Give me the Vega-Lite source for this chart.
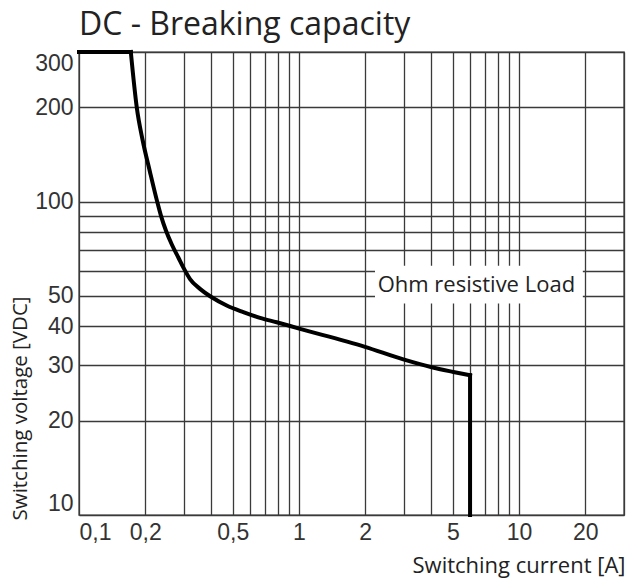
{
  "$schema": "https://vega.github.io/schema/vega-lite/v6.json",
  "autosize": {"type": "none"},
  "padding": {"left": 79, "top": 52, "right": 3, "bottom": 63},
  "width": 545,
  "height": 463,
  "background": "white",
  "view": {"stroke": "#3a3a3a", "strokeWidth": 1.4},
  "title": {
    "text": "DC - Breaking capacity",
    "anchor": "start",
    "frame": "group",
    "font": "Open Sans",
    "fontSize": 32,
    "fontWeight": "normal",
    "color": "#222222",
    "baseline": "alphabetic",
    "offset": 17,
    "dy": 40
  },
  "datasets": {
    "curve": [
      {"segment": "top", "current": 0.1, "voltage": 300},
      {"segment": "top", "current": 0.172, "voltage": 300},
      {"segment": "curve", "current": 0.172, "voltage": 300},
      {"segment": "curve", "current": 0.183, "voltage": 200},
      {"segment": "curve", "current": 0.195, "voltage": 156},
      {"segment": "curve", "current": 0.2098, "voltage": 125},
      {"segment": "curve", "current": 0.2262, "voltage": 100.5},
      {"segment": "curve", "current": 0.2359, "voltage": 90},
      {"segment": "curve", "current": 0.2486, "voltage": 80.7},
      {"segment": "curve", "current": 0.2645, "voltage": 72.8},
      {"segment": "curve", "current": 0.2828, "voltage": 66.3},
      {"segment": "curve", "current": 0.2995, "voltage": 61.2},
      {"segment": "curve", "current": 0.3196, "voltage": 56.6},
      {"segment": "curve", "current": 0.3548, "voltage": 52.65},
      {"segment": "curve", "current": 0.4011, "voltage": 49.5},
      {"segment": "curve", "current": 0.4692, "voltage": 46.6},
      {"segment": "curve", "current": 0.5582, "voltage": 44.4},
      {"segment": "curve", "current": 0.6647, "voltage": 42.56},
      {"segment": "curve", "current": 0.7916, "voltage": 41.2},
      {"segment": "curve", "current": 0.993, "voltage": 39.4},
      {"segment": "curve", "current": 1.995, "voltage": 34.4},
      {"segment": "curve", "current": 2.98, "voltage": 31.35},
      {"segment": "curve", "current": 4.01, "voltage": 29.6},
      {"segment": "curve", "current": 5.03, "voltage": 28.6},
      {"segment": "curve", "current": 5.99, "voltage": 27.9},
      {"segment": "drop", "current": 5.99, "voltage": 27.9},
      {"segment": "drop", "current": 5.99, "voltage": 10}
    ],
    "box": [
      {"current": 2.215, "current_end": 19.5, "voltage": 47.3, "voltage_end": 62.4}
    ],
    "note": [
      {"current": 6.4, "voltage": 51.3, "label": "Ohm resistive Load"}
    ]
  },
  "layer": [
    {
      "data": {"name": "curve"},
      "mark": {"type": "line", "color": "#000000", "strokeWidth": 4, "strokeJoin": "miter", "strokeCap": "square", "interpolate": "monotone"},
      "encoding": {
        "detail": {"field": "segment", "type": "nominal"},
        "order": {"field": "current", "type": "quantitative"},
        "x": {
          "field": "current",
          "type": "quantitative",
          "scale": {"type": "log", "domain": [0.1, 30], "nice": false, "zero": false},
          "axis": {
            "values": [0.1, 0.2, 0.3, 0.4, 0.5, 0.6, 0.7, 0.8, 0.9, 1, 2, 3, 4, 5, 6, 7, 8, 9, 10, 20, 30],
            "labelExpr": "indexof([0.1, 0.2, 0.5, 1, 2, 5, 10, 20], datum.value) >= 0 ? replace(format(datum.value, '~g'), '.', ',') : ''",
            "labelFlush": true,
            "labelOverlap": false,
            "labelBound": false,
            "ticks": false,
            "domain": false,
            "grid": true,
            "gridColor": "#3a3a3a",
            "gridWidth": 1.3,
            "gridOpacity": 1,
            "labelFont": "Liberation Sans",
            "labelFontSize": 23,
            "labelColor": "#333333",
            "labelPadding": 6,
            "title": "Switching current [A]",
            "titleFont": "Open Sans",
            "titleFontSize": 22,
            "titleFontWeight": "normal",
            "titleColor": "#222222",
            "titleX": 546,
            "titleY": 57,
            "titleAlign": "right",
            "titleBaseline": "alphabetic"
          }
        },
        "y": {
          "field": "voltage",
          "type": "quantitative",
          "scale": {"type": "log", "domain": [10, 300], "nice": false, "zero": false},
          "axis": {
            "values": [10, 20, 30, 40, 50, 60, 70, 80, 90, 100, 200, 300],
            "format": "d",
            "labelExpr": "indexof([10, 20, 30, 40, 50, 100, 200, 300], datum.value) >= 0 ? datum.label : ''",
            "labelFlush": true,
            "labelOverlap": false,
            "labelBound": false,
            "ticks": false,
            "domain": false,
            "grid": true,
            "gridColor": "#3a3a3a",
            "gridWidth": 1.3,
            "gridOpacity": 1,
            "labelFont": "Liberation Sans",
            "labelFontSize": 23,
            "labelColor": "#333333",
            "labelPadding": 6,
            "title": "Switching voltage [VDC]",
            "titleFont": "Open Sans",
            "titleFontSize": 20.5,
            "titleFontWeight": "normal",
            "titleColor": "#222222",
            "titleAngle": -90,
            "titleX": -59,
            "titleY": 468,
            "titleAlign": "left",
            "titleBaseline": "middle"
          }
        }
      }
    },
    {
      "data": {"name": "box"},
      "mark": {"type": "rect", "fill": "white", "stroke": null},
      "encoding": {
        "x": {"field": "current", "type": "quantitative", "title": "Switching current [A]"},
        "x2": {"field": "current_end"},
        "y": {"field": "voltage", "type": "quantitative", "title": "Switching voltage [VDC]"},
        "y2": {"field": "voltage_end"}
      }
    },
    {
      "data": {"name": "note"},
      "mark": {"type": "text", "font": "Open Sans", "fontSize": 22, "color": "#222222", "align": "center", "baseline": "alphabetic"},
      "encoding": {
        "x": {"field": "current", "type": "quantitative", "title": "Switching current [A]"},
        "y": {"field": "voltage", "type": "quantitative", "title": "Switching voltage [VDC]"},
        "text": {"field": "label"}
      }
    }
  ]
}
